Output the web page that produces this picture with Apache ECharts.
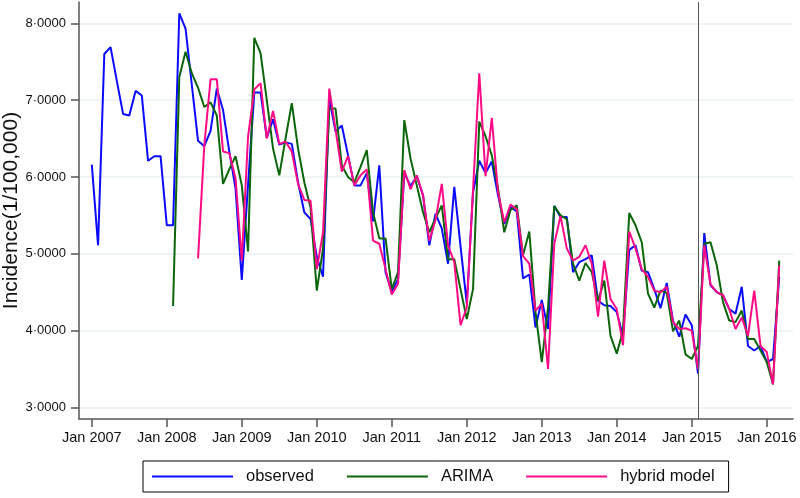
<!DOCTYPE html>
<html>
<head>
<meta charset="utf-8">
<script src="https://cdn.jsdelivr.net/npm/echarts@6/dist/echarts.min.js"></script>
<style>html,body{margin:0;padding:0;background:#fff}#c{width:800px;height:498px}</style>
</head>
<body>
<div id="c"></div>
<script>
// Month index 0 = Jan 2007
const tickMonths = [0, 12, 24, 36, 48, 60, 72, 84, 96, 108];
const tickLabels = ['Jan 2007','Jan 2008','Jan 2009','Jan 2010','Jan 2011','Jan 2012','Jan 2013','Jan 2014','Jan 2015','Jan 2016'];
const yTicks = [3, 4, 5, 6, 7, 8];
const splitMonth = 97; // vertical reference line (Feb 2015)

const observed = [
 6.16,5.11,7.60,7.69,7.25,6.82,6.80,7.12,7.06,6.21,6.27,6.27,
 5.37,5.37,8.13,7.93,7.20,6.47,6.40,6.60,7.15,6.87,6.33,5.85,
 4.66,5.90,7.10,7.10,6.51,6.75,6.42,6.45,6.43,5.93,5.54,5.45,
 4.96,4.70,7.02,6.59,6.67,6.28,5.89,5.89,6.05,5.42,6.15,4.76,
 4.50,4.67,6.05,5.88,6.01,5.76,5.11,5.52,5.33,4.87,5.87,5.10,
 4.35,5.80,6.21,6.05,6.20,5.76,5.39,5.61,5.55,4.68,4.73,4.04,
 4.40,4.02,5.62,5.48,5.48,4.76,4.89,4.93,4.98,4.39,4.33,4.32,
 4.24,3.93,5.05,5.11,4.78,4.76,4.54,4.29,4.62,4.13,3.92,4.21,
 4.07,3.44,5.27,4.59,4.50,4.46,4.28,4.22,4.57,3.80,3.74,3.80,
 3.59,3.63,4.70
];
const arima = [
 null,null,null,null,null,null,null,null,null,null,null,null,
 null,4.32,7.30,7.63,7.35,7.16,6.91,6.97,6.80,5.91,6.10,6.27,
 5.89,5.03,7.81,7.61,7.00,6.37,6.02,6.50,6.96,6.37,5.93,5.60,
 4.52,5.07,6.89,6.89,6.15,6.00,5.93,6.13,6.35,5.54,5.20,5.20,
 4.54,4.76,6.74,6.24,5.89,5.54,5.28,5.46,5.63,4.93,4.93,4.54,
 4.15,4.54,6.72,6.53,6.28,5.85,5.28,5.57,5.63,4.98,5.29,4.24,
 3.59,4.30,5.62,5.50,5.45,4.87,4.65,4.88,4.76,4.39,4.65,3.93,
 3.70,4.00,5.53,5.37,5.15,4.48,4.30,4.52,4.49,3.99,4.13,3.69,
 3.63,3.80,5.13,5.15,4.85,4.37,4.13,4.11,4.26,3.89,3.89,3.74,
 3.59,3.30,4.91
];
const hybrid = [
 null,null,null,null,null,null,null,null,null,null,null,null,
 null,null,null,null,null,4.94,6.41,7.27,7.27,6.33,6.31,5.98,
 4.91,6.52,7.14,7.22,6.50,6.86,6.43,6.46,6.33,5.91,5.70,5.69,
 4.80,5.28,7.15,6.62,6.07,6.27,5.89,6.02,6.10,5.17,5.13,4.80,
 4.47,4.61,6.09,5.84,6.02,5.76,5.17,5.44,5.91,5.11,4.89,4.07,
 4.30,5.83,7.35,6.01,6.77,5.80,5.41,5.64,5.58,4.97,4.87,4.26,
 4.35,3.50,5.13,5.49,5.07,4.91,4.96,5.11,4.87,4.18,4.91,4.41,
 4.28,3.81,5.29,5.07,4.80,4.70,4.52,4.50,4.57,4.11,4.02,4.03,
 4.00,3.50,5.11,4.60,4.50,4.46,4.28,4.02,4.17,3.93,4.52,3.80,
 3.72,3.30,4.85
];

function toPairs(arr){
  const out = [];
  arr.forEach((v,i)=>{ if(v!==null) out.push([i,v]); });
  return out;
}

const chart = echarts.init(document.getElementById('c'), null, {renderer:'canvas'});
const font = 'Liberation Sans, Arial, sans-serif';
chart.setOption({
  animation:false,
  backgroundColor:'#fff',
  textStyle:{fontFamily:font},
  grid:{left:79,right:7,top:2,bottom:79,containLabel:false,outerBoundsMode:'none'},
  xAxis:{
    type:'value',
    min:-2.05, max:112.2,
    axisLine:{show:true,onZero:false,lineStyle:{color:'#555',width:1.5}},
    axisTick:{show:true,length:8,lineStyle:{color:'#555',width:1.5},customValues:tickMonths},
    axisLabel:{show:true,margin:11,fontSize:14.5,color:'#111',fontFamily:font,
      customValues:tickMonths,
      formatter:function(v){ const k=tickMonths.indexOf(Math.round(v)); return k>=0?tickLabels[k]:''; }},
    splitLine:{show:false}
  },
  yAxis:{
    type:'value',
    min:2.849, max:8.277,
    name:'Incidence(1/100,000)',
    nameLocation:'middle',
    nameGap:57,
    nameMoveOverlap:false,
    nameTextStyle:{fontSize:21,color:'#111',fontFamily:font},
    axisLine:{show:true,onZero:false,lineStyle:{color:'#555',width:1.5}},
    axisTick:{show:true,length:8,lineStyle:{color:'#555',width:1.5},customValues:yTicks},
    axisLabel:{show:true,margin:13,fontSize:13,color:'#111',fontFamily:font,
      customValues:yTicks,
      formatter:function(v){ return v.toFixed(4).replace('.', '\u00B7'); }},
    splitLine:{show:true,lineStyle:{color:'#e8f0f2',width:1.5}}
  },
  legend:{
    left:143, top:461,
    orient:'horizontal',
    borderColor:'#000', borderWidth:1,
    padding:[7,14,7,9],
    itemGap:33,
    itemWidth:81, itemHeight:2,
    icon:'rect',
    textStyle:{fontSize:16.5,color:'#111',fontFamily:font,padding:[0,0,0,8]},
    data:['observed','ARIMA','hybrid model']
  },
  series:[
    {name:'observed',type:'line',data:toPairs(observed),showSymbol:false,symbol:'none',
     lineStyle:{color:'#0a0aff',width:2},itemStyle:{color:'#0a0aff'},z:2,
     markLine:{silent:true,symbol:'none',label:{show:false},
       lineStyle:{color:'#555',width:1,type:'solid'},data:[{xAxis:splitMonth}]}},
    {name:'ARIMA',type:'line',data:toPairs(arima),showSymbol:false,symbol:'none',
     lineStyle:{color:'#0b650b',width:2},itemStyle:{color:'#0b650b'},z:3},
    {name:'hybrid model',type:'line',data:toPairs(hybrid),showSymbol:false,symbol:'none',
     lineStyle:{color:'#ff0a85',width:2},itemStyle:{color:'#ff0a85'},z:4}
  ]
});
</script>
</body>
</html>
